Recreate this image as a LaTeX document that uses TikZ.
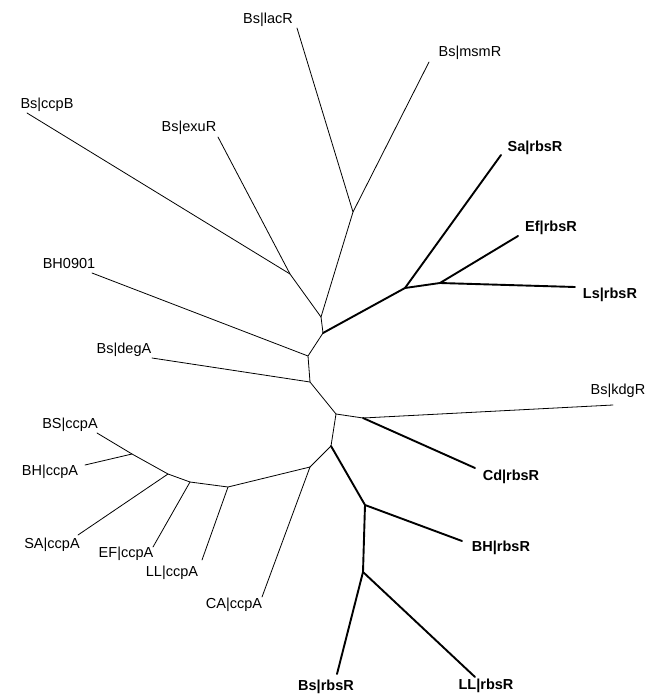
\documentclass[tikz,border=0pt]{standalone}
\usepackage{fontspec}
\setmainfont{Liberation Sans}
\usepackage{tikz}
\usetikzlibrary{positioning,calc}
\tikzset{
  %% Leaf labels
  tlLeaf/.style={inner sep=0pt, font=\fontsize{14.5}{17}\selectfont, text=black},
  tlRbs/.style={inner sep=0pt, font=\fontsize{14.5}{17}\selectfont\bfseries, text=black},
  %% Branches
  tlbr/.style={draw=black, line width=0.8pt, line cap=round, line join=round},
  tlbrB/.style={draw=black, line width=1.9pt, line cap=round, line join=round},
}

\begin{document}
\begin{tikzpicture}[x=1pt, y=-1pt]
\useasboundingbox (0,0) rectangle (658,696);

%% Inner nodes
\coordinate (nP) at (290,274);
\coordinate (nQ) at (353,212);
\coordinate (nX) at (321,317);
\coordinate (nA) at (323,333);
\coordinate (nN) at (405,288);
\coordinate (nO) at (440,283);
\coordinate (nB) at (308,356);
\coordinate (nC) at (310,382);
\coordinate (nD) at (336,414);
\coordinate (nE) at (363,418);
\coordinate (nF) at (331,446);
\coordinate (nG) at (365,505);
\coordinate (nH) at (363,572);
\coordinate (nI) at (310,467);
\coordinate (nJ) at (228,487);
\coordinate (nK) at (190,482);
\coordinate (nL) at (168,474);
\coordinate (nM) at (132,454);

%% Leaf tips
\coordinate (tLac)  at (297,28);
\coordinate (tMsm)  at (429,62);
\coordinate (tCcpB) at (27,113);
\coordinate (tExu)  at (218,137);
\coordinate (tSa)   at (501,155);
\coordinate (tEf)   at (518,236);
\coordinate (tLs)   at (575,287);
\coordinate (tBH09) at (92,273);
\coordinate (tDeg)  at (152,358);
\coordinate (tKdg)  at (613,405);
\coordinate (tCd)   at (475,468);
\coordinate (tBHr)  at (462,541);
\coordinate (tBsr)  at (337,674);
\coordinate (tLLr)  at (475,677);
\coordinate (tCA)   at (262,597);
\coordinate (tLLc)  at (202,560);
\coordinate (tEF)   at (153,547);
\coordinate (tSA)   at (78,535);
\coordinate (tBHc)  at (85,465);
\coordinate (tBS)   at (97,433);

%% Labels
\node[tlLeaf] (lLac)  at (268,20)  {Bs|lacR};
\node[tlLeaf] (lMsm)  at (470,53)  {Bs|msmR};
\node[tlLeaf] (lCcpB) at (47,105)  {Bs|ccpB};
\node[tlLeaf] (lExu)  at (189,128) {Bs|exuR};
\node[tlRbs]  (lSa)   at (535,148) {Sa|rbsR};
\node[tlRbs]  (lEf)   at (551,228) {Ef|rbsR};
\node[tlRbs]  (lLs)   at (610,295) {Ls|rbsR};
\node[tlLeaf] (lBH09) at (69,264)  {BH0901};
\node[tlLeaf] (lDeg)  at (124,350) {Bs|degA};
\node[tlLeaf] (lKdg)  at (618,391) {Bs|kdgR};
\node[tlRbs]  (lCd)   at (511,477) {Cd|rbsR};
\node[tlRbs]  (lBHr)  at (501,548) {BH|rbsR};
\node[tlRbs]  (lBsr)  at (326,687) {Bs|rbsR};
\node[tlRbs]  (lLLr)  at (486,686) {LL|rbsR};
\node[tlLeaf] (lCA)   at (234,605) {CA|ccpA};
\node[tlLeaf] (lLLc)  at (172,573) {LL|ccpA};
\node[tlLeaf] (lEF)   at (126,554) {EF|ccpA};
\node[tlLeaf] (lSA)   at (52,545)  {SA|ccpA};
\node[tlLeaf] (lBHc)  at (50,472)  {BH|ccpA};
\node[tlLeaf] (lBS)   at (70,425)  {BS|ccpA};

%% Thin branches
\draw[tlbr] (tCcpB) -- (nP) -- (nX);
\draw[tlbr] (tExu) -- (nP);
\draw[tlbr] (tLac) -- (nQ) -- (nX);
\draw[tlbr] (tMsm) -- (nQ);
\draw[tlbr] (nX) -- (nA) -- (nB) -- (nC) -- (nD) -- (nF) -- (nI);
\draw[tlbr] (tBH09) -- (nB);
\draw[tlbr] (tDeg) -- (nC);
\draw[tlbr] (nD) -- (nE) -- (tKdg);
\draw[tlbr] (nI) -- (tCA);
\draw[tlbr] (nI) -- (nJ) -- (nK) -- (nL) -- (nM) -- (tBS);
\draw[tlbr] (nJ) -- (tLLc);
\draw[tlbr] (nK) -- (tEF);
\draw[tlbr] (nL) -- (tSA);
\draw[tlbr] (nM) -- (tBHc);

%% Thick branches (rbsR)
\draw[tlbrB] (nA) -- (nN) -- (tSa);
\draw[tlbrB] (nN) -- (nO) -- (tEf);
\draw[tlbrB] (nO) -- (tLs);
\draw[tlbrB] (nE) -- (tCd);
\draw[tlbrB] (nF) -- (nG) -- (tBHr);
\draw[tlbrB] (nG) -- (nH) -- (tBsr);
\draw[tlbrB] (nH) -- (tLLr);

\end{tikzpicture}
\end{document}
